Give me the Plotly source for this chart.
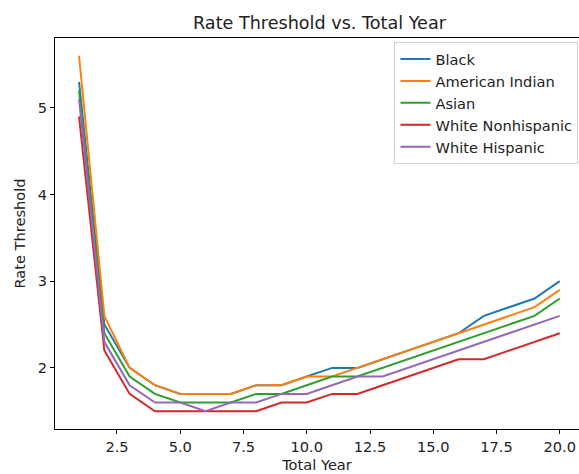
import plotly.graph_objects as go

years = list(range(1, 21))
black = [5.3, 2.5, 2.0, 1.8, 1.7, 1.7, 1.7, 1.8, 1.8, 1.9, 2.0, 2.0, 2.1, 2.2, 2.3, 2.4, 2.6, 2.7, 2.8, 3.0]
american_indian = [5.6, 2.6, 2.0, 1.8, 1.7, 1.7, 1.7, 1.8, 1.8, 1.9, 1.9, 2.0, 2.1, 2.2, 2.3, 2.4, 2.5, 2.6, 2.7, 2.9]
asian = [5.2, 2.4, 1.9, 1.7, 1.6, 1.6, 1.6, 1.7, 1.7, 1.8, 1.9, 1.9, 2.0, 2.1, 2.2, 2.3, 2.4, 2.5, 2.6, 2.8]
white_nonhispanic = [4.9, 2.2, 1.7, 1.5, 1.5, 1.5, 1.5, 1.5, 1.6, 1.6, 1.7, 1.7, 1.8, 1.9, 2.0, 2.1, 2.1, 2.2, 2.3, 2.4]
white_hispanic = [5.1, 2.3, 1.8, 1.6, 1.6, 1.5, 1.6, 1.6, 1.7, 1.7, 1.8, 1.9, 1.9, 2.0, 2.1, 2.2, 2.3, 2.4, 2.5, 2.6]

series = [
    ("Black", black, "#1f77b4"),
    ("American Indian", american_indian, "#ff7f0e"),
    ("Asian", asian, "#2ca02c"),
    ("White Nonhispanic", white_nonhispanic, "#d62728"),
    ("White Hispanic", white_hispanic, "#9467bd"),
]

x_ticks = [2.5, 5.0, 7.5, 10.0, 12.5, 15.0, 17.5, 20.0]
y_ticks = [2, 3, 4, 5]

fig = go.Figure()
for i, (name, vals, color) in enumerate(series):
    fig.add_trace(go.Scatter(x=years, y=vals, mode="lines", name=name,
                             line=dict(color=color, width=2), legendgroup=str(i)))

font_family = "DejaVu Sans"
fs = 14.6
fig.update_layout(
    width=579, height=474,
    margin=dict(l=55, r=0, t=38, b=45),
    plot_bgcolor="white", paper_bgcolor="white",
    font=dict(family=font_family, size=fs, color="#222"),
    title=dict(text="Rate Threshold vs. Total Year", x=(55 + 584) / 2 / 579, xanchor="center",
               y=1 - 23 / 474, yanchor="middle", yref="container",
               font=dict(size=17.6, color="#222")),
    showlegend=True,
    legend=dict(x=0.999, y=0.99, xanchor="right", yanchor="top",
                bgcolor="rgba(255,255,255,0.8)", bordercolor="#d0d0d0", borderwidth=1,
                font=dict(size=fs), itemwidth=30, tracegroupgap=0),
    xaxis=dict(range=[0.05, 20.76], tickvals=x_ticks, tickformat=".1f",
               showgrid=False, zeroline=False, showline=True, linecolor="black", linewidth=1,
               mirror=True, ticks="outside", ticklen=4, tickcolor="black",
               title=dict(text="Total Year", standoff=6, font=dict(size=fs))),
    yaxis=dict(range=[1.295, 5.805], tickvals=y_ticks,
               showgrid=False, zeroline=False, showline=True, linecolor="black", linewidth=1,
               ticks="outside", ticklen=4, tickcolor="black",
               title=dict(text="Rate Threshold", standoff=8, font=dict(size=fs))),
)

fig.write_html("out.html")
